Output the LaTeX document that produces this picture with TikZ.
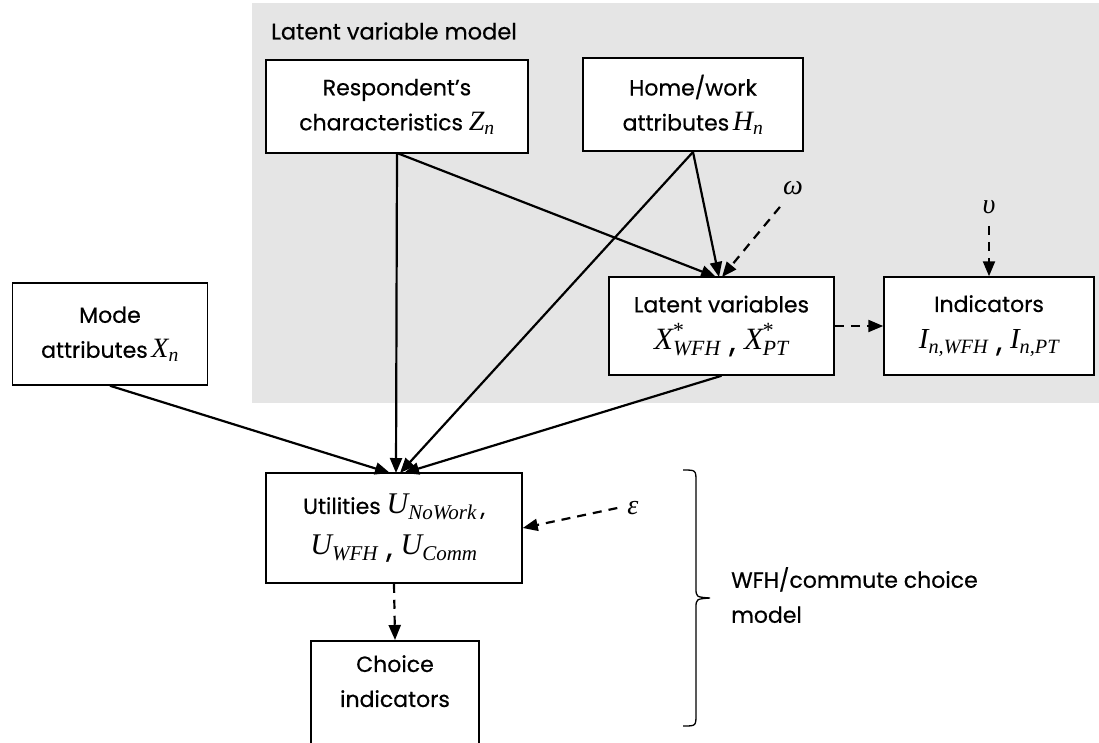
\documentclass[tikz,border=0pt]{standalone}
\usepackage{amsmath}
\usepackage{fontspec}
\setmainfont{Poppins}[FakeBold=0.5]
\newfontfamily\tnr{Liberation Serif}
\usetikzlibrary{arrows.meta}
\definecolor{latgray}{HTML}{E5E5E5}
\newcommand\mi[1]{\text{\tnr\itshape #1}}
\newcommand\ssz{\fontsize{22}{35}\selectfont}
\newcommand\msz[1]{\fontsize{#1}{35}\selectfont}
\newcommand\scomma{\raisebox{-0.15ex}{,}}
\tikzset{
  box/.style={draw=black, line width=1.5pt, fill=white, align=center, inner sep=0pt, font=\ssz},
  conn/.style={line width=2.2pt, -{Triangle[length=15pt,width=12pt]}},
  dconn/.style={line width=2.2pt, dash pattern=on 9pt off 7pt, -{Triangle[length=15pt,width=12pt]}},
  lbl/.style={inner sep=0pt, font=\ssz},
  greek/.style={inner sep=0pt, font=\tnr\itshape\fontsize{28}{30}\selectfont}
}
\begin{document}
\begin{tikzpicture}[x=1pt,y=-1pt]
\useasboundingbox (0,0) rectangle (1099,742);
\fill[latgray] (252,3) rectangle (1099,403);
\node[lbl, anchor=west, font=\fontsize{22.5}{26}\selectfont] (title) at (271,31) {Latent variable model};

\node[box, minimum width=262pt, minimum height=93pt] (resp) at (397,106.5)
  {Respondent's\\characteristics {\msz{28}$\mi{Z}_{\mi{n}}$}};
\node[box, minimum width=220pt, minimum height=93pt] (home) at (693,104.5)
  {Home/work\\attributes\,{\msz{28}$\mi{H}_{\mi{n}}$}};
\node[box, minimum width=225pt, minimum height=98pt] (lat) at (721.5,326)
  {Latent variables\\[2pt]{\msz{31}$\mi{X}^{\text{\tnr *}}_{\mi{WFH}}$\;\scomma\;$\mi{X}^{\text{\tnr *}}_{\mi{PT}}$}};
\node[box, minimum width=210pt, minimum height=98pt] (ind) at (989,326)
  {Indicators\\[2pt]{\msz{29}$\mi{I}_{\mi{n,WFH}}$\;\scomma\;$\mi{I}_{\mi{n,PT}}$}};
\node[box, minimum width=195pt, minimum height=102pt] (mode) at (110,334)
  {Mode\\attributes\,{\msz{28}$\mi{X}_{\mi{n}}$}};
\node[box, minimum width=256pt, minimum height=110pt] (util) at (394,528)
  {Utilities {\msz{30}$\mi{U}_{\mi{NoWork}}$}\,\scomma\\[6pt]{\msz{30}$\mi{U}_{\mi{WFH}}$\;\scomma\;$\mi{U}_{\mi{Comm}}$}};
\node[box, minimum width=168pt, minimum height=130pt, anchor=north] (choice) at (395,640) {};
\node[lbl, align=center, anchor=north] (choicet) at (395,655) {Choice\\indicators};

\node[greek] (omega) at (793,188) {ω};
\node[greek] (upsilon) at (989,207) {υ};
\node[greek] (eps) at (633,508) {ε};

\coordinate (respb) at (397,153);
\coordinate (homeb) at (693,152);
\draw[conn] (respb) -- (396,473);
\draw[conn] (respb) -- (716,277);
\draw[conn] (homeb) -- (719,277);
\draw[conn] (homeb) -- (400,473);
\draw[conn] (mode.south) -- (390,473);
\draw[conn] (lat.south) -- (404,473);
\draw[dconn] (omega.south west) ++(-3,12) -- (722,277);
\draw[dconn] (upsilon.south) ++(0,12) -- (ind.north);
\draw[dconn] (lat.east) -- (ind.west);
\draw[dconn] (eps.west) ++(-10,0) -- (util.east);
\draw[dconn] (util.south) -- (choice.north);

\draw[line width=1.3pt] (683,470) .. controls (696,470) .. (696,482) -- (696,588)
  .. controls (696,597) .. (710,598) .. controls (696,599) .. (696,608) -- (696,714)
  .. controls (696,726) .. (683,726);
\node[lbl, align=left, anchor=west, font=\fontsize{22}{35}\selectfont] (wfh) at (731,595) {WFH/commute choice\\model};
\end{tikzpicture}
\end{document}
